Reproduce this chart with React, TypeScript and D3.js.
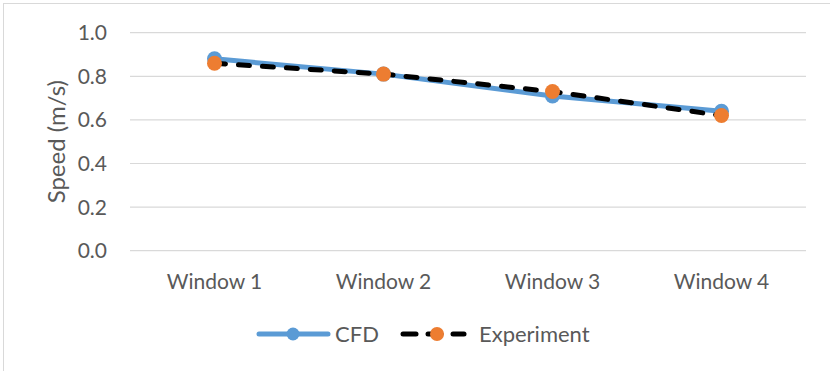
import React from "react";
import * as d3 from "d3";

const categories = ["Window 1", "Window 2", "Window 3", "Window 4"];
const cfdValues = [0.88, 0.81, 0.71, 0.64];
const experimentValues = [0.86, 0.81, 0.73, 0.62];
const yTicks = [0, 0.2, 0.4, 0.6, 0.8, 1.0];
const seriesNames = ["CFD", "Experiment"];

const W = 830;
const H = 371;
const plot = { left: 130, right: 806, top: 32.7, bottom: 250.7 };

const BLUE = "#5B9BD5";
const ORANGE = "#ED7D31";
const GRID = "#D9D9D9";
const TEXT = "#595959";
const FONT = "Lato, 'Open Sans', sans-serif";
const LABEL_SIZE = 21;
const LEGEND_SIZE = 22;
const LINE_W = 5;

export default function App() {
  const x = d3
    .scaleBand<string>()
    .domain(categories)
    .range([plot.left, plot.right]);
  const y = d3.scaleLinear().domain([0, 1]).range([plot.bottom, plot.top]);
  const cx = (c: string) => (x(c) ?? 0) + x.bandwidth() / 2;

  const line = d3
    .line<number>()
    .x((_, i) => cx(categories[i]))
    .y((v) => y(v));

  return (
    <svg
      width={W}
      height={H}
      style={{ position: "absolute", left: 0, top: 0, background: "#fff" }}
      fontFamily={FONT}
    >
      <rect x={0} y={0} width={W} height={H} fill="#fff" />
      <rect
        x={3.5}
        y={3.5}
        width={W + 20}
        height={H + 20}
        fill="none"
        stroke="#D9D9D9"
        strokeWidth={1}
      />

      {/* horizontal gridlines and value labels */}
      {yTicks.map((t) => (
        <g key={t}>
          <line
            x1={plot.left}
            x2={plot.right}
            y1={y(t)}
            y2={y(t)}
            stroke={GRID}
            strokeWidth={1.2}
          />
          <text
            x={107}
            y={y(t)}
            dy="0.36em"
            textAnchor="end"
            fontSize={LABEL_SIZE}
            fill={TEXT}
          >
            {d3.format(".1f")(t)}
          </text>
        </g>
      ))}

      {/* category labels */}
      {categories.map((c) => (
        <text
          key={c}
          x={cx(c)}
          y={288.5}
          textAnchor="middle"
          fontSize={LABEL_SIZE}
          fill={TEXT}
        >
          {c}
        </text>
      ))}

      <text
        transform={`translate(56, ${(plot.top + plot.bottom) / 2}) rotate(-90)`}
        textAnchor="middle"
        dy="0.36em"
        fontSize={24}
        fill={TEXT}
      >
        Speed (m/s)
      </text>

      {/* CFD series */}
      <path
        d={line(cfdValues) ?? ""}
        fill="none"
        stroke={BLUE}
        strokeWidth={LINE_W}
        strokeLinecap="round"
        strokeLinejoin="round"
      />
      {cfdValues.map((v, i) => (
        <circle key={i} cx={cx(categories[i])} cy={y(v)} r={7.5} fill={BLUE} />
      ))}

      {/* Experiment series */}
      <path
        d={line(experimentValues) ?? ""}
        fill="none"
        stroke="#000"
        strokeWidth={LINE_W}
        strokeDasharray="11 13"
        strokeLinecap="round"
        strokeLinejoin="round"
      />
      {experimentValues.map((v, i) => (
        <circle
          key={i}
          cx={cx(categories[i])}
          cy={y(v)}
          r={7.5}
          fill={ORANGE}
        />
      ))}

      {/* legend */}
      <g>
        <line
          x1={259}
          x2={328}
          y1={334}
          y2={334}
          stroke={BLUE}
          strokeWidth={LINE_W}
          strokeLinecap="round"
        />
        <circle cx={293} cy={334} r={6.5} fill={BLUE} />
        <text x={335} y={334} dy="0.36em" fontSize={LEGEND_SIZE} fill={TEXT}>
          {seriesNames[0]}
        </text>

        <line
          x1={403}
          x2={416}
          y1={334}
          y2={334}
          stroke="#000"
          strokeWidth={LINE_W}
          strokeLinecap="round"
        />
        <line
          x1={428}
          x2={441}
          y1={334}
          y2={334}
          stroke="#000"
          strokeWidth={LINE_W}
          strokeLinecap="round"
        />
        <line
          x1={453}
          x2={464}
          y1={334}
          y2={334}
          stroke="#000"
          strokeWidth={LINE_W}
          strokeLinecap="round"
        />
        <circle cx={437} cy={334} r={7} fill={ORANGE} />
        <text x={479} y={334} dy="0.36em" fontSize={LEGEND_SIZE} fill={TEXT}>
          {seriesNames[1]}
        </text>
      </g>
    </svg>
  );
}
